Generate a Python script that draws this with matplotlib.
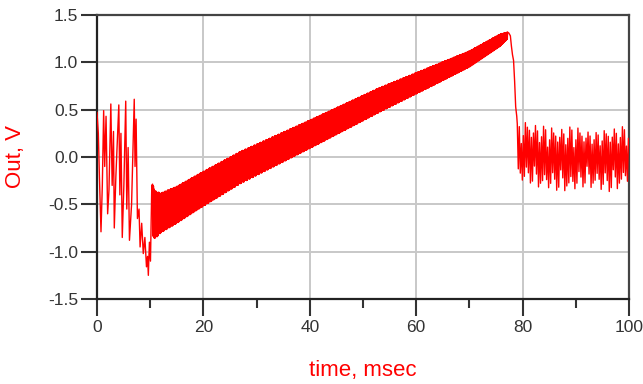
import numpy as np
import matplotlib
matplotlib.use("Agg")
import matplotlib.pyplot as plt

# ---- data ----
# initial ringing (explicit vertices), time in msec, Out in V
ring_t = [0.00, 0.25, 0.45, 0.75, 1.00, 1.25, 1.45, 1.70, 2.00, 2.25, 2.60, 2.85, 3.10, 3.25,
          3.55, 4.10, 4.30, 4.50, 4.75, 5.05, 5.40, 5.60, 5.85, 6.10, 6.50, 7.00, 7.15, 7.35,
          7.60, 7.90, 8.10, 8.40, 8.70, 9.00, 9.30, 9.50, 9.65, 9.85, 10.05, 10.30]
ring_v = [0.47, 0.25, -0.20, -0.79, -0.30, 0.49, -0.10, 0.43, -0.60, -0.35, 0.56, -0.30, 0.27, -0.75,
          -0.20, 0.55, -0.40, 0.25, -0.85, -0.30, 0.59, -0.55, 0.10, -0.88, -0.50, 0.61, -0.10, 0.40,
          -0.65, -0.55, -0.95, -0.70, -1.02, -0.85, -1.16, -1.05, -1.25, -0.90, -1.10, -0.30]

# ramp band envelope
band_t = [10.4, 11.0, 12.0, 15.0, 19.4, 27.0, 40.0, 53.0, 63.0, 70.0, 75.8, 77.2]
band_up = [-0.28, -0.36, -0.38, -0.31, -0.17, 0.06, 0.39, 0.73, 0.96, 1.12, 1.30, 1.32]
band_lo = [-0.85, -0.86, -0.80, -0.70, -0.54, -0.28, 0.09, 0.47, 0.75, 0.95, 1.17, 1.25]
band_swing = [1.0, 0.94, 0.98, 0.92, 1.0, 0.96, 0.93]

# fall-off after the ramp
fall_t = [77.4, 77.7, 77.9, 78.1, 78.3, 78.5, 78.7, 78.9]
fall_v = [1.31, 1.28, 1.17, 1.08, 1.02, 0.80, 0.53, 0.43]

# tail ringing envelope
tail_t = [79.0, 81.3, 83.5, 86.0, 89.5, 92.0, 94.5, 96.0, 98.0, 100.0]
tail_up = [0.35, 0.37, 0.33, 0.30, 0.32, 0.28, 0.25, 0.30, 0.32, 0.32]
tail_lo = [-0.25, -0.27, -0.33, -0.35, -0.36, -0.30, -0.36, -0.37, -0.33, -0.26]
tail_mid = [0.03, 0.02, 0.0, -0.02, -0.02, 0.01, 0.05, -0.03, -0.01, 0.01]
tail_swing = [1.0, 0.55, 0.9, 0.7, 0.35, 0.95, 0.6, 0.8, 1.0, 0.45, 0.85, 0.65, 0.75]

xticks = [0, 20, 40, 60, 80, 100]
yticks = [-1.5, -1.0, -0.5, 0.0, 0.5, 1.0, 1.5]

# ---- build the trace ----
ts, vs = list(ring_t), list(ring_v)

bt = np.arange(10.45, 77.2, 0.04)
bu = np.interp(bt, band_t, band_up)
bl = np.interp(bt, band_t, band_lo)
mid = (bu + bl) / 2
half = (bu - bl) / 2
for i, t in enumerate(bt):
    s = band_swing[i % len(band_swing)]
    sign = 1 if i % 2 == 0 else -1
    ts.append(t)
    vs.append(mid[i] + sign * s * half[i])

ts += fall_t
vs += fall_v

tt = np.arange(79.0, 100.0, 0.19)
tu = np.interp(tt, tail_t, tail_up)
tl = np.interp(tt, tail_t, tail_lo)
tm = np.interp(tt, tail_t, tail_mid)
for i, t in enumerate(tt):
    s = tail_swing[i % len(tail_swing)]
    edge = tu[i] if i % 2 == 0 else tl[i]
    ts.append(t)
    vs.append(tm[i] + s * (edge - tm[i]))

# ---- draw ----
plt.rcParams['font.family'] = ['Liberation Sans', 'DejaVu Sans']
fig = plt.figure(figsize=(6.43, 3.84), dpi=100)
ax = fig.add_axes([97 / 643, 1 - 299 / 384, 532 / 643, 284 / 384])

ax.plot(ts, vs, color='#ff0000', lw=1.0, zorder=3)

ax.set_xlim(0, 100)
ax.set_ylim(-1.5, 1.5)
ax.set_xticks(xticks)
ax.set_xticks([10, 30, 50, 70, 90], minor=True)
ax.set_yticks(yticks)
ax.set_xticklabels([str(x) for x in xticks])
ax.set_yticklabels(['%.1f' % y for y in yticks])
ax.grid(True, which='major', color='#c8c8c8', lw=1.4, zorder=0)

ax.tick_params(axis='both', which='major', direction='out', colors='#333333',
               labelsize=12.5, width=1.5)
ax.tick_params(axis='y', which='major', length=11.5, pad=2)
ax.tick_params(axis='x', which='major', length=12, pad=3)
ax.tick_params(axis='x', which='minor', direction='out', length=6.5, width=1.5, color='#333333')

for side in ['left', 'bottom']:
    ax.spines[side].set_color('#222222')
    ax.spines[side].set_linewidth(1.6)
for side in ['top', 'right']:
    ax.spines[side].set_color('#444444')
    ax.spines[side].set_linewidth(1.6)

ax.set_xlabel('time, msec', color='#ff0000', fontsize=16)
ax.set_ylabel('Out, V', color='#ff0000', fontsize=16)
ax.xaxis.set_label_coords(0.5, -0.215)
ax.yaxis.set_label_coords(-0.133, 0.50)

fig.savefig('out.png', dpi=100)
